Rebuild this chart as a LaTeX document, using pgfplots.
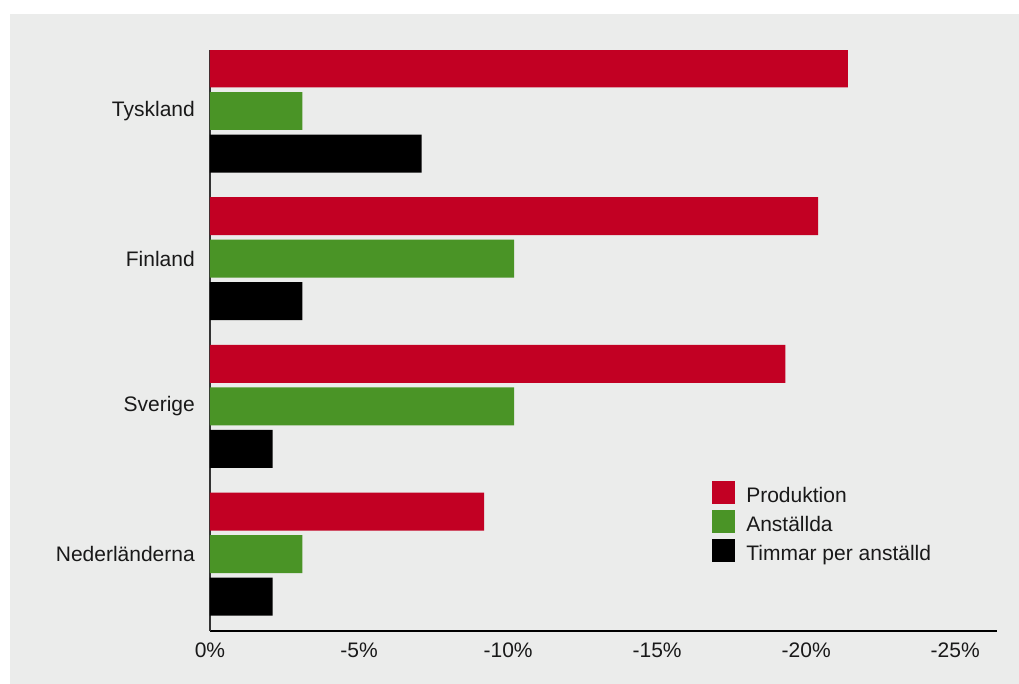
\documentclass[border=0pt]{standalone}
\usepackage{pgfplots}
\pgfplotsset{compat=1.18}
\usepackage{fontspec}
\setmainfont{Liberation Sans}
\definecolor{bg}{RGB}{235,236,235}
\definecolor{pred}{RGB}{194,0,35}
\definecolor{pgreen}{RGB}{74,148,38}
\begin{document}
\begin{tikzpicture}
\fill[bg] (-200bp,-53bp) rectangle (809bp,617bp);
\begin{axis}[
 at={(0,0)}, anchor=south west,
 scale only axis, width=787bp, height=581bp,
 xbar, bar width=0.257, bar shift=0pt,
 x dir=reverse, xmin=-26.4, xmax=0,
 y dir=reverse, ymin=-0.413, ymax=3.521,
 axis x line*=bottom, axis y line*=left,
 axis line style={-},
 x axis line style={line width=1.2bp, black},
 y axis line style={line width=1.8bp, black!80},
 major tick length=0pt,
 xtick={0,-5,-10,-15,-20,-25},
 xticklabels={0\%,-5\%,-10\%,-15\%,-20\%,-25\%},
 ytick={0,1,2,3},
 yticklabels={Tyskland,Finland,Sverige,Nederländerna},
 tick label style={font=\fontsize{21bp}{25bp}\selectfont, text=black!90},
 yticklabel style={inner sep=0pt, xshift=-15bp},
 xticklabel style={yshift=-8bp},
 legend image code/.code={\fill[#1] (0bp,-9bp) rectangle (23bp,14bp); \path (34bp,0bp);},
 legend style={draw=none, fill=none, anchor=north west, at={(0.638,0.258)},
   inner sep=0pt, row sep=6bp, font=\fontsize{21bp}{25bp}\selectfont,
   text=black!90, nodes={inner sep=0pt}},
 legend cell align=left,
]
\addplot[fill=pred, draw=none] coordinates {(-21.4,-0.288) (-20.4,0.712) (-19.3,1.712) (-9.2,2.712)};
\addlegendentry{Produktion}
\addplot[fill=pgreen, draw=none] coordinates {(-3.1,0) (-10.2,1) (-10.2,2) (-3.1,3)};
\addlegendentry{Anställda}
\addplot[fill=black, draw=none] coordinates {(-7.1,0.288) (-3.1,1.288) (-2.1,2.288) (-2.1,3.288)};
\addlegendentry{Timmar per anställd}
\end{axis}
\pgfresetboundingbox
\path[use as bounding box] (-210bp,-53bp) rectangle (809bp,631bp);
\end{tikzpicture}
\end{document}
